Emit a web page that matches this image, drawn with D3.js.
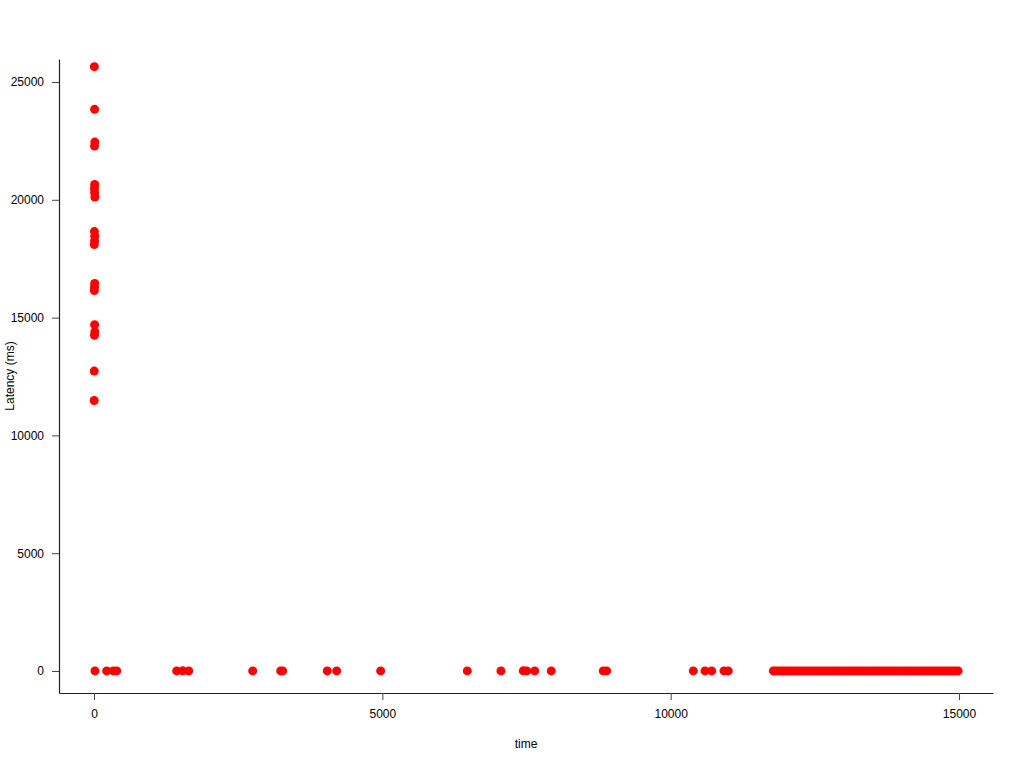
<!DOCTYPE html>
<html>
<head>
<meta charset="utf-8">
<script src="https://cdn.jsdelivr.net/npm/d3@7"></script>
<style>
  body { margin: 0; background: #fff; }
  svg text { font-family: "Liberation Sans", Arial, sans-serif; }
</style>
</head>
<body>
<svg id="chart" width="1024" height="768"></svg>
<script>
(() => {

// early burst of slow requests
const burst_time = [6, 10, 14, 9, 12, 8, 11, 15, 7, 13, 10, 5, 12, 9, 6, 11, 14, 8, 4, 3];
const burst_latency = [25650, 23840, 22450, 22280, 20650, 20480, 20300, 20120, 18650, 18450,
    18250, 18100, 16450, 16300, 16150, 14700, 14400, 14250, 12730, 11480];

// sparse fast requests
const sparse_time = [17, 220, 335, 394, 1434, 1538, 1642, 2752, 3237, 3272, 4045, 4208, 4971,
    6473, 7057, 7444, 7503, 7642, 7929, 8831, 8890, 10392, 10595, 10711, 10924, 10998];
const sparse_latency = [4, 3, 5, 3, 4, 6, 3, 4, 5, 3, 4, 3, 5, 4, 3, 6, 4, 3, 5, 4, 3, 5, 4, 3, 4, 5];

// steady traffic at the end
const steady_time = [11780, 11812, 11861, 11905, 11948, 11990, 12037, 12081, 12126, 12170,
    12214, 12262, 12305, 12349, 12396, 12440, 12483, 12531, 12575, 12618, 12664, 12709,
    12752, 12798, 12843, 12887, 12930, 12978, 13021, 13066, 13112, 13155, 13199, 13246,
    13290, 13333, 13379, 13424, 13468, 13514, 13557, 13603, 13647, 13690, 13736, 13781,
    13825, 13869, 13914, 13960, 14003, 14049, 14093, 14137, 14182, 14228, 14271, 14317,
    14360, 14406, 14450, 14494, 14540, 14584, 14628, 14673, 14718, 14762, 14806, 14851,
    14897, 14940, 14984];
const steady_latency = steady_time.map(() => 3);

const x_ticks = [0, 5000, 10000, 15000];
const y_ticks = [0, 5000, 10000, 15000, 20000, 25000];

// chart frame
const left = 59, right = 993, top = 59, bottom = 693;
const point_radius = 4.5;
const point_color = '#ff0000';

let svg = d3.select('#chart');

let points = [];
burst_time.forEach((t, i) => points.push({t: t, v: burst_latency[i]}));
sparse_time.forEach((t, i) => points.push({t: t, v: sparse_latency[i]}));
steady_time.forEach((t, i) => points.push({t: t, v: steady_latency[i]}));

let x_scale = d3.scaleLinear()
    .domain([-607, 15589])
    .range([left, right]);

let y_scale = d3.scaleLinear()
    .domain([-934, 25976])
    .range([bottom, top]);

// x axis
let x_axis = d3.axisBottom(x_scale)
    .tickValues(x_ticks)
    .tickFormat(d3.format('d'))
    .tickSize(7)
    .tickSizeOuter(0)
    .tickPadding(9);
let gx = svg.append('g')
    .attr('transform', `translate(0, ${bottom})`)
    .call(x_axis);

// y axis
let y_axis = d3.axisLeft(y_scale)
    .tickValues(y_ticks)
    .tickFormat(d3.format('d'))
    .tickSize(7)
    .tickSizeOuter(0)
    .tickPadding(8);
let gy = svg.append('g')
    .attr('transform', `translate(${left}, 0)`)
    .call(y_axis);

[gx, gy].forEach(g => {
    g.select('.domain').attr('stroke', '#222').attr('stroke-width', 1.2);
    g.selectAll('.tick line').attr('stroke', '#444');
    g.selectAll('.tick text').style('font-size', '12px').attr('fill', '#000');
});

// points
svg.append('g')
    .selectAll('circle')
    .data(points)
    .enter()
    .append('circle')
    .attr('cx', d => x_scale(d.t))
    .attr('cy', d => y_scale(d.v))
    .attr('r', point_radius)
    .attr('fill', point_color);

// axis titles
svg.append('text')
    .attr('x', (left + right) / 2)
    .attr('y', 748)
    .attr('text-anchor', 'middle')
    .style('font-size', '12px')
    .text('time');

svg.append('text')
    .attr('transform', `translate(14, ${(top + bottom) / 2}) rotate(-90)`)
    .attr('text-anchor', 'middle')
    .style('font-size', '12px')
    .text('Latency (ms)');

})();
</script>
</body>
</html>
